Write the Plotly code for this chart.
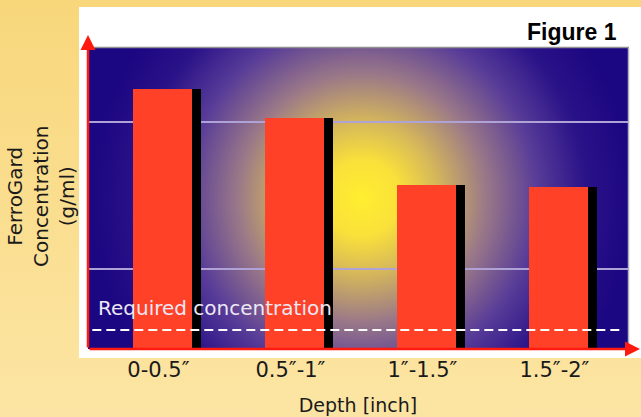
import base64
import plotly.graph_objects as go

# ---- data ----
depth_labels = ["0-0.5″", "0.5″-1″", "1″-1.5″", "1.5″-2″"]
concentration = [2.60, 2.31, 1.64, 1.62]
required_concentration = 0.19
grid_values = [0.80, 2.27]
y_max = 3.01

W, H = 641, 417
ML, MR, MT, MB = 88, 13, 48, 68
PW, PH = W - ML - MR, H - MT - MB

def px_x(px):
    return (px - ML) / PW

def px_y(py):
    return (H - MB - py) / PH

svg = f'''<svg xmlns="http://www.w3.org/2000/svg" width="{W}" height="{H}" viewBox="0 0 {W} {H}" preserveAspectRatio="none">
<defs>
<linearGradient id="bg" x1="0" y1="0" x2="0" y2="1">
<stop offset="0" stop-color="#F8D77B"/><stop offset="1" stop-color="#FCE5A4"/>
</linearGradient>
<radialGradient id="glow" gradientUnits="userSpaceOnUse" cx="362" cy="198" r="270">
<stop offset="0" stop-color="#FFEE30"/>
<stop offset="0.14" stop-color="#FAE13A"/>
<stop offset="0.28" stop-color="#D6B85A"/>
<stop offset="0.46" stop-color="#9A7888"/>
<stop offset="0.65" stop-color="#583C98"/>
<stop offset="0.83" stop-color="#2A1288"/>
<stop offset="1" stop-color="#1C0782"/>
</radialGradient>
</defs>
<rect width="{W}" height="{H}" fill="url(#bg)"/>
<rect x="79" y="7" width="562" height="351" fill="#FFFFFF"/>
<rect x="{ML}" y="{MT}" width="{PW}" height="{PH}" fill="url(#glow)"/>
<line x1="{ML}" y1="{MT-0.5}" x2="{ML+PW+1}" y2="{MT-0.5}" stroke="#909090" stroke-width="1.5"/>
<line x1="{ML+PW+0.5}" y1="{MT}" x2="{ML+PW+0.5}" y2="{H-MB}" stroke="#B0B0C0" stroke-width="1.5"/>
</svg>'''
src = "data:image/svg+xml;base64," + base64.b64encode(svg.encode()).decode()

bar_w = 0.447
shadow_w = 0.068

fig = go.Figure()
fig.add_trace(go.Bar(
    x=depth_labels, y=concentration, width=shadow_w, offset=bar_w / 2,
    marker=dict(color="#000000", line=dict(width=0)), hoverinfo="skip", showlegend=False))
fig.add_trace(go.Bar(
    x=depth_labels, y=concentration, width=bar_w, offset=-bar_w / 2,
    marker=dict(color="#FF4128", line=dict(width=0)), showlegend=False))

fig.add_shape(type="line", xref="paper", yref="y", x0=0.008, x1=0.985,
              y0=required_concentration, y1=required_concentration,
              line=dict(color="white", width=2, dash="9px,5px"), layer="above")

font = "DejaVu Sans"
annotations = [
    dict(text="Required concentration", xref="paper", yref="paper", x=px_x(96), y=px_y(308),
         xanchor="left", yanchor="middle", showarrow=False,
         font=dict(family=font, size=20, color="#ECE8F4")),
    dict(text="<b>Figure 1</b>", xref="paper", yref="paper", x=px_x(619), y=px_y(32),
         xanchor="right", yanchor="middle", showarrow=False,
         font=dict(family="Liberation Sans", size=23, color="#000000")),
    dict(text="FerroGard<br>Concentration<br>(g/ml)", xref="paper", yref="paper",
         x=px_x(41), y=px_y(197), xanchor="center", yanchor="middle", textangle=-90,
         showarrow=False, font=dict(family=font, size=20, color="#1a1a1a")),
    # axis arrows
    dict(text="", xref="paper", yref="paper", x=0, y=px_y(35), ax=0, ay=314,
         showarrow=True, arrowhead=2, arrowsize=1.2, arrowwidth=2.5, arrowcolor="#FF1A10"),
    dict(text="", xref="paper", yref="paper", x=px_x(640), y=0, ax=-552, ay=0,
         showarrow=True, arrowhead=2, arrowsize=1.2, arrowwidth=2.5, arrowcolor="#FF1A10"),
]

fig.update_layout(
    width=W, height=H,
    margin=dict(l=ML, r=MR, t=MT, b=MB, pad=0),
    paper_bgcolor="#FADE90", plot_bgcolor="rgba(0,0,0,0)",
    barmode="overlay", bargap=0,
    images=[dict(source=src, xref="paper", yref="paper", x=-ML / PW, y=1 + MT / PH,
                 sizex=W / PW, sizey=H / PH, sizing="stretch", xanchor="left", yanchor="top",
                 layer="below")],
    annotations=annotations,
    xaxis=dict(type="category", categoryorder="array", categoryarray=depth_labels,
               range=[-0.564, 3.527], showgrid=False, zeroline=False, showline=False,
               automargin=False,
               ticks="", ticklabelstandoff=6, ticklabelshift=-4,
               tickfont=dict(family=font, size=21, color="#1a1a1a"),
               title=dict(text="Depth [inch]", font=dict(family=font, size=19, color="#1a1a1a"),
                          standoff=17)),
    yaxis=dict(range=[0, y_max], tickvals=grid_values, showticklabels=False, ticks="",
               automargin=False,
               showgrid=True, gridcolor="#AEA2D6", gridwidth=2, zeroline=False, showline=False),
    hovermode=False,
)

fig.write_html("out.html", config={"displayModeBar": False, "staticPlot": True},
               post_script="document.body.style.margin='0';document.body.style.padding='0';"
                           "document.documentElement.style.overflow='hidden';")
